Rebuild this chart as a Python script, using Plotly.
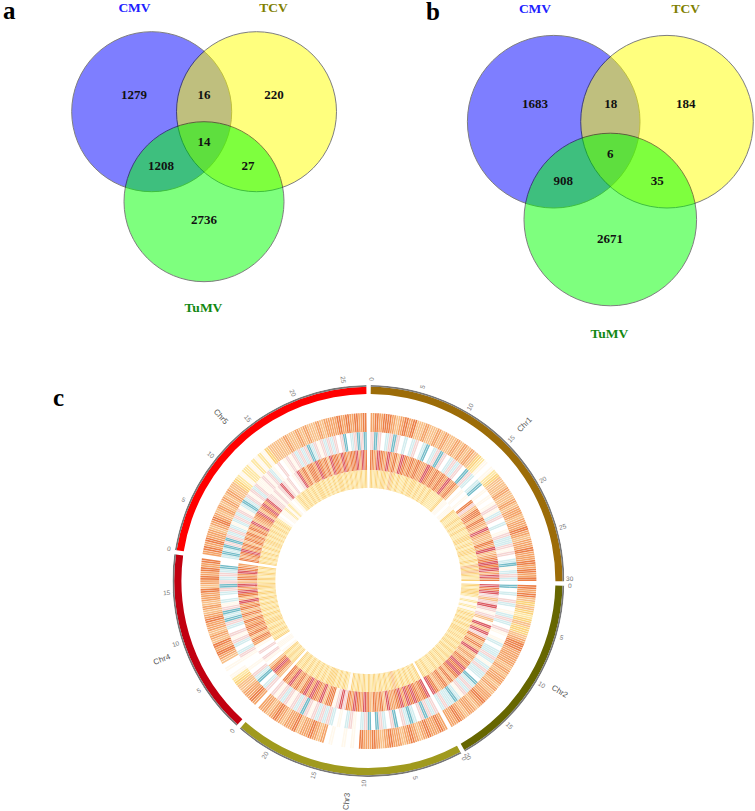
import plotly.graph_objects as go
import math

# ---------- Venn data ----------
venn_a_counts = ["1279", "16", "220", "14", "1208", "27", "2736"]
venn_a_x = [134, 204, 274, 204, 161, 248, 204]
venn_a_y = [95.5, 95.5, 95.5, 142.5, 166.5, 166.5, 220.5]
venn_b_counts = ["1683", "18", "184", "6", "908", "35", "2671"]
venn_b_x = [535, 610.7, 685.7, 610.3, 563.3, 657.3, 610]
venn_b_y = [104.5, 104.5, 104.5, 155.2, 181.5, 181.5, 239.8]
set_names = ["CMV", "TCV", "TuMV"]
set_colors = ["#2020ff", "#808000", "#118811"]
set_fills = ["#0000ff", "#ffff00", "#00ff00"]
venn_a_label_xy = [(134.5, 8.5), (273.5, 8.5), (203.5, 309)]
venn_b_label_xy = [(535, 10), (685.7, 10), (609.3, 335)]
venn_a_circles = [(151.7, 111.7, 80), (256.5, 111.7, 80), (204, 201.7, 80)]
venn_b_circles = [(553.7, 121.7, 86.3), (667, 121.7, 86.3), (610.3, 219.5, 86.3)]

# ---------- Circos data ----------
chr_names = ["Chr1", "Chr2", "Chr3", "Chr4", "Chr5"]
chr_sizes_mb = [30.3, 20.0, 23.5, 18.8, 27.2]
chr_colors = ["#9c6c08", "#666600", "#a09a1e", "#c20010", "#ff0000"]
chr_label_theta = [45, 120, 185.5, 249.3, 318]
chr_ticks = [
    [0, 5, 10, 15, 20, 25, 30],
    [0, 5, 10, 15, 20],
    [0, 5, 10, 15, 20],
    [0, 5, 10, 15],
    [0, 5, 10, 15, 20, 25],
]

ring1 = [
    "565665456564454454544545454321012344454454554556545565565656",
    "6564343234334566555545455454556545545655",
    "565565456545565456556010100105456554655456545 5".replace(" ", ""),
    "5655443210104565645455654545564565656",
    "5656554565454545443212212121" + "3444454454544545556565656",
]
ring2 = [
    "p9p08p9p0808p08908p9p08p8p09p808901010" + "1p18p0801p88p1p08918p8",
    "9080p8018p80p1018088p818p88098p8p18988p8",
    "p8p9p0898p09p08p909p801p80108p8p8p1p9p8p1p8p1p",
    "p8098p01001p808p1p08p989p1808p9p8p890",
    "8989p9p8p818p8p1898p1p8p11p1p810p01p1p8p8p98p1p8p8p0p908p9p9",
]
ring3 = [
    "657657564765656557656565756401010" + "6p46646547544657456767576",
    "767p4p7p1p41747p6464745465767646465467",
    "7656767576557465646756756p7p16647567576465756",
    "4676401p0p015646565646465746757465765",
    "65675646564657456746757pp1p1p7p1p01p7564665765647665765667576",
]
ring4 = [
    "323233243232232332323232222311011322323232233232332232434323",
    "3233212121232323233232323232323232322323",
    "3232323234323232323232323123232333232323232323",
    "3232310110323232332323232323233232323",
    "32323232332323232321011212101232323232332323232332323232323",
]
rings = [ring1, ring2, ring3, ring4]
ring_bounds = [(149, 168), (131, 149), (111, 131), (93, 111)]

level_colors = {
    "0": "#ffffff", "1": "#fff8ec", "2": "#fde6a0", "3": "#fbd37c",
    "4": "#f8c088", "5": "#f4a468", "6": "#ec8048", "7": "#dc5a62",
    "8": "#d2ecee", "9": "#74bcc8", "p": "#f5d4d2",
}

# ---------- Geometry (pixels on the 755x811 page) ----------
W, H = 755, 811
CX, CY, R = 368.4, 581.0, 196.0
GAP = 1.3
START = 0.7
deg_per_mb = (360 - GAP * 5) / sum(chr_sizes_mb)
chr_span = []
a = START
for s in chr_sizes_mb:
    chr_span.append((a, a + s * deg_per_mb))
    a += s * deg_per_mb + GAP

fig = go.Figure()

shapes = []
for circles in (venn_a_circles, venn_b_circles):
    for (x, y, r), col in zip(circles, set_fills):
        shapes.append(dict(type="circle", xref="x", yref="y", x0=x - r, x1=x + r,
                           y0=y - r, y1=y + r, fillcolor=col, opacity=0.5,
                           line=dict(color="#000000", width=1), layer="below"))

for xs, ys, txt in ((venn_a_x, venn_a_y, venn_a_counts), (venn_b_x, venn_b_y, venn_b_counts)):
    fig.add_trace(go.Scatter(x=xs, y=ys, text=txt, mode="text", hoverinfo="skip",
                             textposition="middle center",
                             textfont=dict(family="Liberation Serif", size=13, color="#111111",
                                           weight="bold")))
for pts in (venn_a_label_xy, venn_b_label_xy):
    fig.add_trace(go.Scatter(x=[p[0] for p in pts], y=[p[1] for p in pts], text=set_names,
                             mode="text", hoverinfo="skip", textposition="middle center",
                             textfont=dict(family="Liberation Serif", size=13.5, color=set_colors,
                                           weight="bold")))

theta, width, base, length, colors = [], [], [], [], []
def add(t, w, b, l, c):
    theta.append(t); width.append(w); base.append(b); length.append(l); colors.append(c)

STRIPES = 2
for ring, (r0, r1) in zip(rings, ring_bounds):
    for (s, e), levels in zip(chr_span, ring):
        w = (e - s) / len(levels)
        for i, lv in enumerate(levels):
            for k in range(STRIPES):
                add(s + (i + (k + 0.5) / STRIPES) * w, w * 0.78 / STRIPES, r0, r1 - r0, level_colors[lv])

for (s, e), col in zip(chr_span, chr_colors):
    add((s + e) / 2, e - s, 187, 7.2, col)
    add((s + e) / 2, e - s, 194.2, 1.8, "#787878")

for (s, e), ticks in zip(chr_span, chr_ticks):
    for t in ticks:
        add(s + t * deg_per_mb, 0.25, 196, 2, "#888888")

fig.add_trace(go.Barpolar(theta=theta, width=width, base=base, r=length,
                          marker=dict(color=colors, line=dict(width=0)),
                          hoverinfo="skip", subplot="polar"))

annotations = []
def radial_text(th, r, text, size, color):
    rad = math.radians(th)
    x = CX + r * math.sin(rad)
    y = CY - r * math.cos(rad)
    ang = th - 90 if th <= 180 else th + 90
    annotations.append(dict(x=x, y=y, xref="x", yref="y", text=text, showarrow=False,
                            textangle=ang, font=dict(family="Liberation Sans", size=size, color=color)))

for (s, e), ticks in zip(chr_span, chr_ticks):
    for t in ticks:
        radial_text(s + t * deg_per_mb, 202, str(t), 6.5, "#777777")
for th, name in zip(chr_label_theta, chr_names):
    radial_text(th, 221, name, 8, "#555555")

for letter, x, y in (("a", 9, 10), ("b", 433, 11), ("c", 58, 397)):
    annotations.append(dict(x=x, y=y, xref="x", yref="y", text=f"<b>{letter}</b>", showarrow=False,
                            font=dict(family="Liberation Serif", size=25, color="#000000")))

fig.update_layout(
    width=W, height=H, autosize=False, showlegend=False,
    margin=dict(l=0, r=0, t=0, b=0),
    paper_bgcolor="#ffffff", plot_bgcolor="rgba(0,0,0,0)",
    xaxis=dict(range=[0, W], visible=False, domain=[0, 1], fixedrange=True),
    yaxis=dict(range=[H, 0], visible=False, domain=[0, 1], fixedrange=True),
    shapes=shapes, annotations=annotations,
    polar=dict(
        domain=dict(x=[(CX - R) / W, (CX + R) / W], y=[1 - (CY + R) / H, 1 - (CY - R) / H]),
        bgcolor="rgba(0,0,0,0)",
        radialaxis=dict(range=[0, R], visible=False, showgrid=False),
        angularaxis=dict(rotation=90, direction="clockwise", visible=False, showgrid=False),
    ),
)
fig.write_html("out.html", config=dict(displayModeBar=False),
               post_script="document.body.style.margin='0';document.documentElement.style.overflow='hidden';")
